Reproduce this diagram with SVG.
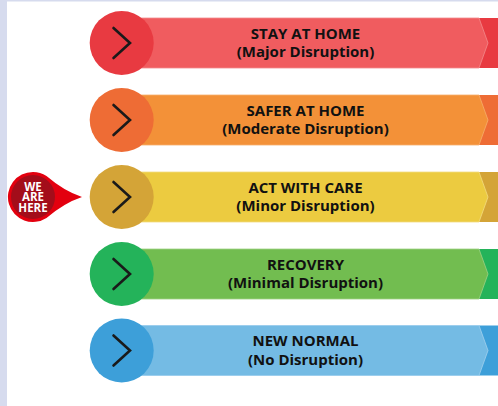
<svg xmlns="http://www.w3.org/2000/svg" width="498" height="406" viewBox="0 0 498 406">
<style>
.t{font-family:"Open Sans","Liberation Sans",sans-serif;font-weight:bold;font-size:15px;fill:#111;text-anchor:middle}
.pin{font-family:"Open Sans","Liberation Sans",sans-serif;font-weight:bold;font-size:11.5px;fill:#fff;text-anchor:middle}
.chev{fill:none;stroke:#1a1a1a;stroke-width:2.6;stroke-linecap:round;stroke-linejoin:miter}
</style>
<rect x="0" y="0" width="498" height="406" fill="#ffffff"/>
<rect x="0" y="0" width="7" height="406" fill="#d6dbee"/>
<rect x="0" y="0" width="498" height="1.5" fill="#d6dbee"/>

<g id="stage1" transform="translate(0,43)">
<rect x="135" y="-25" width="363" height="50" fill="#e83a41"/>
<path d="M135,-25H479L488,0L479,25H135Z" fill="#f05c5f" stroke="#f38b8d" stroke-width="0.8"/>
<circle cx="121.7" cy="0" r="32" fill="#e83a41"/>
<path class="chev" d="M113.5,-15L130,0L113.5,15"/>
<text class="t" x="305.5" y="-4.5">STAY AT HOME</text>
<text class="t" x="305.5" y="14">(Major Disruption)</text>
</g>

<g id="stage2" transform="translate(0,120)">
<rect x="135" y="-25" width="363" height="50" fill="#ee6c35"/>
<path d="M135,-25H479L488,0L479,25H135Z" fill="#f39138" stroke="#f6ae6c" stroke-width="0.8"/>
<circle cx="121.7" cy="0" r="32" fill="#ee6c35"/>
<path class="chev" d="M113.5,-15L130,0L113.5,15"/>
<text class="t" x="305.5" y="-4.5">SAFER AT HOME</text>
<text class="t" x="305.5" y="14">(Moderate Disruption)</text>
</g>

<g id="stage3" transform="translate(0,197)">
<rect x="135" y="-25" width="363" height="50" fill="#d4a437"/>
<path d="M135,-25H479L488,0L479,25H135Z" fill="#eccb40" stroke="#f2dc80" stroke-width="0.8"/>
<circle cx="121.7" cy="0" r="32" fill="#d4a437"/>
<path class="chev" d="M113.5,-15L130,0L113.5,15"/>
<text class="t" x="305.5" y="-4.5">ACT WITH CARE</text>
<text class="t" x="305.5" y="14">(Minor Disruption)</text>
</g>

<g id="stage4" transform="translate(0,274)">
<rect x="135" y="-25" width="363" height="50" fill="#24b35a"/>
<path d="M135,-25H479L488,0L479,25H135Z" fill="#72bd50" stroke="#9ed184" stroke-width="0.8"/>
<circle cx="121.7" cy="0" r="32" fill="#24b35a"/>
<path class="chev" d="M113.5,-15L130,0L113.5,15"/>
<text class="t" x="305.5" y="-4.5">RECOVERY</text>
<text class="t" x="305.5" y="14">(Minimal Disruption)</text>
</g>

<g id="stage5" transform="translate(0,350.5)">
<rect x="135" y="-25" width="363" height="50" fill="#3d9fd9"/>
<path d="M135,-25H479L488,0L479,25H135Z" fill="#74bbe4" stroke="#a2d0ee" stroke-width="0.8"/>
<circle cx="121.7" cy="0" r="32" fill="#3d9fd9"/>
<path class="chev" d="M113.5,-15L130,0L113.5,15"/>
<text class="t" x="305.5" y="-4.5">NEW NORMAL</text>
<text class="t" x="305.5" y="14">(No Disruption)</text>
</g>

<g id="we-are-here">
<path d="M33,172A25,25 0 1 0 46.5,218Q64,203 82,197Q64,191 46.5,176A25,25 0 0 0 33,172Z" fill="#e3000f"/>
<circle cx="33" cy="197" r="22" fill="#a30d1a"/>
<text class="pin"><tspan x="33" y="190.5">WE</tspan><tspan x="33" y="201.3">ARE</tspan><tspan x="33" y="212.1">HERE</tspan></text>
</g>
</svg>
